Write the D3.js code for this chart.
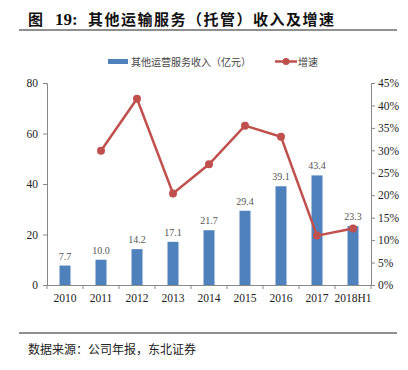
<!DOCTYPE html>
<html>
<head>
<meta charset="utf-8">
<script src="https://cdn.jsdelivr.net/npm/d3@7"></script>
<style>
  body { margin: 0; background: #fff; }
  svg { display: block; }
  text { font-family: "Liberation Serif", "Noto Sans CJK SC", serif; }
  .cjk { font-family: "Noto Sans CJK SC", sans-serif; }
</style>
</head>
<body>
<svg id="chart" width="408" height="370"></svg>
<script>
// 数据
const years = ["2010", "2011", "2012", "2013", "2014", "2015", "2016", "2017", "2018H1"];
const revenue = [7.7, 10.0, 14.2, 17.1, 21.7, 29.4, 39.1, 43.4, 23.3];
const growth = [null, 29.9, 41.5, 20.4, 26.9, 35.5, 33.0, 11.0, 12.6];
const leftTicks = [0, 20, 40, 60, 80];
const rightTicks = [0, 5, 10, 15, 20, 25, 30, 35, 40, 45];

const barColor = "#4f81bd";
const lineColor = "#c0504d";

const svg = d3.select("#chart");
const plot = { left: 47, right: 371, top: 83, bottom: 285 };

const x = d3.scaleBand().domain(years).range([plot.left, plot.right]);
const yL = d3.scaleLinear().domain([0, 80]).range([plot.bottom, plot.top]);
const yR = d3.scaleLinear().domain([0, 45]).range([plot.bottom, plot.top]);

// 标题（分三段排版）
const title = svg.append("g").style("fill", "#111").style("font-weight", "bold");
title.append("text").attr("x", 28).attr("y", 25).attr("class", "cjk")
  .style("font-size", "15px").text("图");
title.append("text").attr("x", 55).attr("y", 25)
  .style("font-size", "17px").text("19:");
title.append("text").attr("x", 88).attr("y", 25).attr("class", "cjk")
  .style("font-size", "15px").style("letter-spacing", "1.5px")
  .text("其他运输服务（托管）收入及增速");
svg.append("line")
  .attr("x1", 19).attr("x2", 397).attr("y1", 30).attr("y2", 30)
  .attr("stroke", "#222").attr("stroke-width", 1.2);

// 图例
svg.append("rect").attr("x", 108).attr("y", 59).attr("width", 20).attr("height", 5).attr("fill", barColor);
svg.append("text").attr("x", 131).attr("y", 66).attr("class", "cjk")
  .style("font-size", "10px").style("fill", "#444").text("其他运营服务收入（亿元）");
svg.append("line").attr("x1", 275).attr("x2", 297).attr("y1", 61.5).attr("y2", 61.5)
  .attr("stroke", lineColor).attr("stroke-width", 2.5);
svg.append("circle").attr("cx", 286).attr("cy", 61.5).attr("r", 3.5).attr("fill", lineColor);
svg.append("text").attr("x", 298).attr("y", 66).attr("class", "cjk")
  .style("font-size", "10px").style("fill", "#444").text("增速");

// 坐标轴
const axisL = svg.append("g").attr("transform", `translate(${plot.left},0)`)
  .call(d3.axisLeft(yL).tickValues(leftTicks).tickSize(4).tickPadding(5));
const axisR = svg.append("g").attr("transform", `translate(${plot.right},0)`)
  .call(d3.axisRight(yR).tickValues(rightTicks).tickSize(4).tickPadding(3).tickFormat(d => d + "%"));
const axisX = svg.append("g").attr("transform", `translate(0,${plot.bottom})`)
  .call(d3.axisBottom(x).tickSize(0).tickPadding(9));

// x 轴刻度线位于类别之间
axisX.selectAll(".sep").data(d3.range(years.length + 1)).enter().append("line")
  .attr("x1", i => plot.left + i * x.step()).attr("x2", i => plot.left + i * x.step())
  .attr("y1", 0).attr("y2", 4).attr("stroke", "#888");

[axisL, axisR, axisX].forEach(g => {
  g.selectAll("path.domain").attr("stroke", "#888");
  g.selectAll(".tick line").attr("stroke", "#888");
  g.selectAll("text").style("font-family", "Liberation Serif, serif").style("font-size", "11.5px").style("fill", "#222");
});

// 柱子
const barW = 11;
svg.append("g").selectAll("rect").data(revenue).enter().append("rect")
  .attr("x", (d, i) => x(years[i]) + x.bandwidth() / 2 - barW / 2)
  .attr("y", d => yL(d))
  .attr("width", barW)
  .attr("height", d => yL(0) - yL(d))
  .attr("fill", barColor);

svg.append("g").selectAll("text").data(revenue).enter().append("text")
  .attr("x", (d, i) => x(years[i]) + x.bandwidth() / 2)
  .attr("y", d => yL(d) - 6)
  .attr("text-anchor", "middle")
  .style("font-size", "10px")
  .style("fill", "#555")
  .text(d => d.toFixed(1));

// 增速折线
const pts = growth.map((g, i) => ({ yr: years[i], g })).filter(d => d.g != null);
const line = d3.line().x(d => x(d.yr) + x.bandwidth() / 2).y(d => yR(d.g));
svg.append("path").datum(pts).attr("d", line)
  .attr("fill", "none").attr("stroke", lineColor).attr("stroke-width", 2.5);
svg.append("g").selectAll("circle").data(pts).enter().append("circle")
  .attr("cx", d => x(d.yr) + x.bandwidth() / 2)
  .attr("cy", d => yR(d.g))
  .attr("r", 4)
  .attr("fill", lineColor);

// 数据来源
svg.append("line")
  .attr("x1", 19).attr("x2", 397).attr("y1", 333).attr("y2", 333)
  .attr("stroke", "#222").attr("stroke-width", 1.2);
svg.append("text")
  .attr("x", 28).attr("y", 354)
  .attr("class", "cjk")
  .style("font-size", "12px")
  .style("fill", "#222")
  .text("数据来源：公司年报，东北证券");
</script>
</body>
</html>
